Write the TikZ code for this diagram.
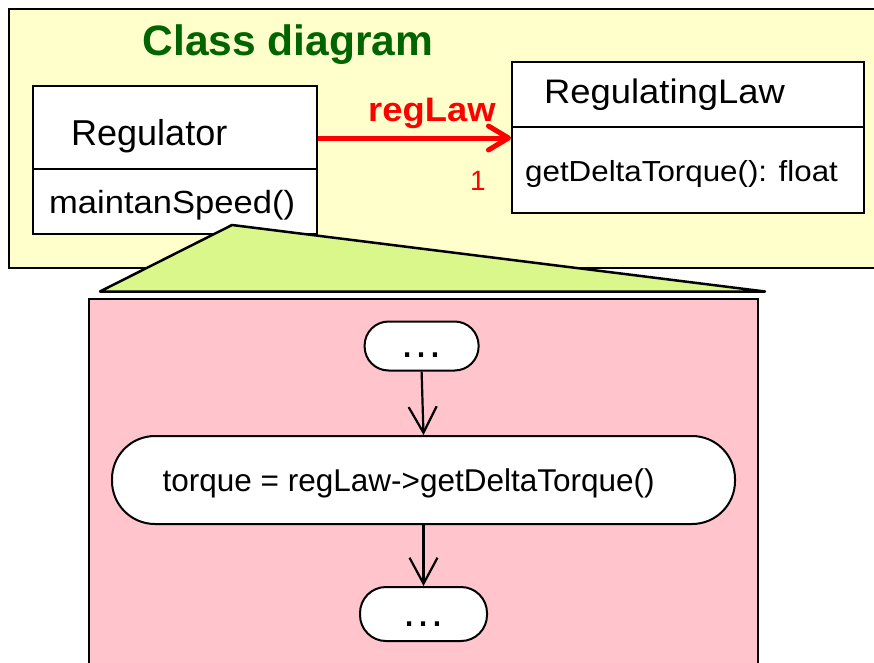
\documentclass[tikz,border=0pt]{standalone}
\usepackage{fontspec}
\usepackage{graphicx}
\setmainfont{Liberation Sans}
\usetikzlibrary{arrows.meta}
\definecolor{frameyellow}{RGB}{255,255,204}
\definecolor{trigreen}{RGB}{218,247,139}
\definecolor{pinkbg}{RGB}{255,196,204}
\definecolor{titlegreen}{RGB}{0,100,0}
\newcommand{\fs}[1]{\fontsize{#1}{#1}\selectfont}
\newcommand{\hsx}[2]{\scalebox{#1}[1]{#2}}
\begin{document}
\begin{tikzpicture}[x=1pt,y=-1pt,
  classbox/.style={draw, line width=1.8pt, fill=white, inner sep=0pt, anchor=north west},
  txt/.style={inner sep=0pt, anchor=base west},
  flowbox/.style={draw, line width=2pt, fill=white, inner sep=0pt},
  flowarrow/.style={line width=2.2pt, -{Straight Barb[length=26pt,width=28pt]}},
  assoc/.style={red, line width=5pt, -{Straight Barb[length=20pt,width=24pt,round]}}
]
\useasboundingbox (0,0) rectangle (874,662);
% class diagram frame
\draw[line width=2pt, fill=frameyellow] (9,9) rectangle (892,268);
\node[txt, font=\fs{42.5}\bfseries, text=titlegreen] (title) at (142.5,55.7) {Class diagram};
% Regulator class
\node[classbox, minimum width=284pt, minimum height=148pt] (regbox) at (32,85) {};
\draw[line width=1.8pt] (regbox.west |- 0,169) -- (regbox.east |- 0,169);
\node[txt, font=\fs{36}] (regname) at (71,145) {Regulator};
\node[txt, font=\fs{32}] (regop) at (49,213) {\hsx{1.08}{maintanSpeed()}};
% RegulatingLaw class
\node[classbox, minimum width=352pt, minimum height=151pt] (lawbox) at (511,61) {};
\draw[line width=1.8pt] (lawbox.west |- 0,127) -- (lawbox.east |- 0,127);
\node[txt, font=\fs{34}] (lawname) at (544,103) {\hsx{1.07}{RegulatingLaw}};
\node[txt, font=\fs{29}] (lawop) at (525,181) {\hsx{1.08}{getDeltaTorque(): float}};
% association
\draw[assoc] (regbox.east |- 0,138) -- (lawbox.west |- 0,138);
\node[txt, font=\fs{34}\bfseries, text=red] (role) at (368,121) {\hsx{1.07}{regLaw}};
\node[txt, font=\fs{28}, text=red] (mult) at (470,190) {1};
% zoom triangle
\draw[line width=2.5pt, fill=trigreen, line join=round] (232,225) -- (100,291.5) -- (765,291.5) -- cycle;
% activity area
\draw[line width=1.5pt, fill=pinkbg] (89,299) rectangle (758,700);
\node[flowbox, minimum width=114pt, minimum height=49pt, rounded corners=24pt,
      font=\fs{44}, text height=23pt, text depth=0pt] (a1) at (421.6,346) {…};
\node[flowbox, minimum width=623pt, minimum height=88pt, rounded corners=43pt] (act) at (423.5,480) {};
\node[txt, font=\fs{31.5}] (acttext) at (162.5,491.7) {torque = regLaw->getDeltaTorque()};
\node[flowbox, minimum width=127pt, minimum height=54pt, rounded corners=26pt,
      font=\fs{44}, text height=25pt, text depth=0pt] (a2) at (423.5,614) {…};
\draw[flowarrow] (a1.south) -- (act.north);
\draw[flowarrow] (act.south) -- (a2.north);
\end{tikzpicture}
\end{document}
